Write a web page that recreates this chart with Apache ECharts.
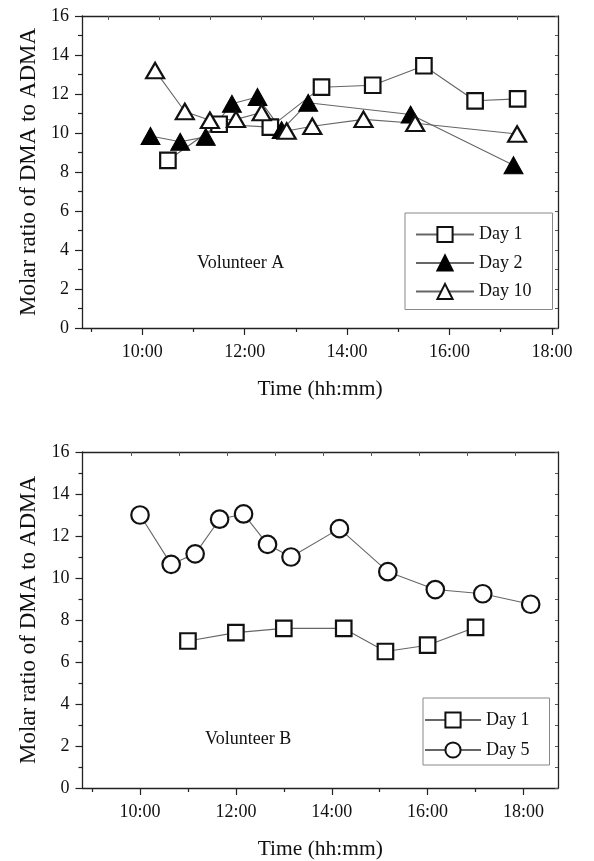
<!DOCTYPE html>
<html><head><meta charset="utf-8">
<script src="https://cdn.jsdelivr.net/npm/echarts@6/dist/echarts.min.js"></script>
<style>html,body{margin:0;padding:0;background:#fff}#c{width:594px;height:861px}</style>
</head><body><div id="c"></div>
<script>
// ---- tick labels / axis values ----
const xLabelHours = [10, 12, 14, 16, 18];
const xMinorHours = [9, 11, 13, 15, 17];
const topTicksA = [9.33, 10.33, 11.33, 12.33, 13.33, 14.33, 15.33, 16.33, 17.33];
const topTicksB = [9.82, 10.82, 11.82, 12.82, 13.82, 14.82, 15.82, 16.82, 17.82];
const yTickMax = 16;

// ---- Volunteer A (time in decimal hours, molar ratio) ----
const aDay1Time  = [10.5, 11.5, 12.5, 13.5, 14.5, 15.5, 16.5, 17.33];
const aDay1Ratio = [8.6, 10.45, 10.3, 12.35, 12.45, 13.45, 11.65, 11.75];
const aDay2Time  = [10.16, 10.74, 11.24, 11.75, 12.25, 12.72, 13.24, 15.24, 17.25];
const aDay2Ratio = [9.85, 9.55, 9.8, 11.5, 11.85, 10.15, 11.55, 10.95, 8.35];
const aDay10Time  = [10.25, 10.83, 11.32, 11.83, 12.33, 12.82, 13.32, 14.32, 15.33, 17.32];
const aDay10Ratio = [13.2, 11.1, 10.65, 10.7, 11.05, 10.1, 10.35, 10.7, 10.5, 9.95];

// ---- Volunteer B ----
const bDay1Time  = [11.0, 12.0, 13.0, 14.25, 15.12, 16.0, 17.0];
const bDay1Ratio = [7.0, 7.4, 7.6, 7.6, 6.5, 6.8, 7.65];
const bDay5Time  = [10.0, 10.65, 11.15, 11.66, 12.16, 12.66, 13.15, 14.16, 15.17, 16.16, 17.15, 18.15];
const bDay5Ratio = [13.0, 10.65, 11.15, 12.8, 13.05, 11.6, 11.0, 12.35, 10.3, 9.45, 9.25, 8.75];

const FONT = "'Liberation Serif', 'Times New Roman', serif";
const INK = '#111';
const AX = '#222';
const LINE = '#666';

function pairs(t, v) { return t.map((x, i) => [x, v[i]]); }
function fmt(v) { return Math.round(v) + ':00'; }

const ranges = [[8.822, 18.119], [8.80, 18.72]];
const topTicks = [topTicksA, topTicksB];

const xAxes = [], yAxes = [];
[0, 1].forEach(g => {
  const [mn, mx] = ranges[g];
  xAxes.push({
    gridIndex: g, type: 'value', min: mn, max: mx, position: 'bottom',
    axisLine: { show: true, onZero: false, lineStyle: { color: AX, width: 1.3 } },
    axisTick: { show: true, length: 7, customValues: xLabelHours, lineStyle: { color: AX, width: 1.2 } },
    axisLabel: { customValues: xLabelHours, formatter: fmt, fontFamily: FONT, fontSize: 18, color: INK, margin: 15 },
    splitLine: { show: false },
    name: 'Time (hh:mm)', nameLocation: 'middle', nameGap: 50,
    nameTextStyle: { fontFamily: FONT, fontSize: 21.5, color: INK }
  });
  xAxes.push({
    gridIndex: g, type: 'value', min: mn, max: mx, position: 'bottom',
    axisLine: { show: false, onZero: false },
    axisTick: { show: true, length: 4, customValues: xMinorHours, lineStyle: { color: AX, width: 1.2 } },
    axisLabel: { show: false }, splitLine: { show: false }
  });
  xAxes.push({
    gridIndex: g, type: 'value', min: mn, max: mx, position: 'top',
    axisLine: { show: true, onZero: false, lineStyle: { color: AX, width: 1.3 } },
    axisTick: { show: true, inside: true, length: 4, customValues: topTicks[g], lineStyle: { color: '#555', width: 1 } },
    axisLabel: { show: false }, splitLine: { show: false }
  });
  yAxes.push({
    gridIndex: g, type: 'value', min: 0, max: yTickMax, interval: 2, position: 'left',
    axisLine: { show: true, onZero: false, lineStyle: { color: AX, width: 1.3 } },
    axisTick: { show: true, length: 7, lineStyle: { color: AX, width: 1.2 } },
    minorTick: { show: true, splitNumber: 2, length: 4, lineStyle: { color: AX, width: 1.2 } },
    axisLabel: { fontFamily: FONT, fontSize: 18, color: INK, margin: 13 },
    splitLine: { show: false }, minorSplitLine: { show: false },
    name: 'Molar ratio of DMA to ADMA', nameLocation: 'middle', nameGap: 33,
    nameTextStyle: { fontFamily: FONT, fontSize: 23, color: INK }
  });
  yAxes.push({
    gridIndex: g, type: 'value', min: 0, max: yTickMax, interval: 1, position: 'right',
    axisLine: { show: true, onZero: false, lineStyle: { color: AX, width: 1.3 } },
    axisTick: { show: true, inside: true, length: 3, lineStyle: { color: '#555', width: 1 } },
    axisLabel: { show: false }, splitLine: { show: false }
  });
});

const sqStyle = { color: '#fff', borderColor: '#111', borderWidth: 2.2 };
const triOpen = { color: '#fff', borderColor: '#111', borderWidth: 2.2 };
const triFill = { color: '#000', borderColor: '#000', borderWidth: 1 };
const circStyle = { color: '#fff', borderColor: '#111', borderWidth: 2.2 };
const lineStyle = { color: LINE, width: 1.1 };

function s(name, g, data, symbol, size, itemStyle) {
  return {
    type: 'line', name, xAxisIndex: g * 3, yAxisIndex: g * 2, data,
    symbol, symbolSize: size, showAllSymbol: true, itemStyle, lineStyle,
    animation: false, emphasis: { disabled: true }, z: 3
  };
}

const series = [
  s('Day 1', 0, pairs(aDay1Time, aDay1Ratio), 'rect', 15.5, sqStyle),
  s('Day 2', 0, pairs(aDay2Time, aDay2Ratio), 'triangle', [19, 17], triFill),
  s('Day 10', 0, pairs(aDay10Time, aDay10Ratio), 'triangle', [18, 15.5], triOpen),
  s('Day 1', 1, pairs(bDay1Time, bDay1Ratio), 'rect', 15.5, sqStyle),
  s('Day 5', 1, pairs(bDay5Time, bDay5Ratio), 'circle', 17.5, circStyle)
];

const legendText = { fontFamily: FONT, fontSize: 18, color: INK };

const option = {
  backgroundColor: '#fff',
  animation: false,
  grid: [
    { left: 82, top: 16, width: 476, height: 312 },
    { left: 82.5, top: 452, width: 475.5, height: 337 }
  ],
  xAxis: xAxes,
  yAxis: yAxes,
  legend: [
    { data: ['Day 1', 'Day 2', 'Day 10'], orient: 'vertical', left: 405, top: 213,
      padding: [12.5, 21, 9, 10], itemWidth: 58, itemHeight: 19, itemGap: 10.5,
      borderColor: '#888', borderWidth: 1, textStyle: legendText, selectedMode: false },
    { data: ['Day 1', 'Day 5'], orient: 'vertical', left: 423, top: 698,
      padding: [13, 20, 6, 1], itemWidth: 56, itemHeight: 19, itemGap: 12,
      borderColor: '#888', borderWidth: 1, textStyle: legendText, selectedMode: false }
  ],
  graphic: [
    { type: 'text', left: 197, top: 254, style: { text: 'Volunteer A', font: "18px 'Liberation Serif'", fill: INK } },
    { type: 'text', left: 205, top: 730, style: { text: 'Volunteer B', font: "18px 'Liberation Serif'", fill: INK } }
  ],
  series
};

const chart = echarts.init(document.getElementById('c'), null, { renderer: 'canvas' });
chart.setOption(option);
</script>
</body></html>
